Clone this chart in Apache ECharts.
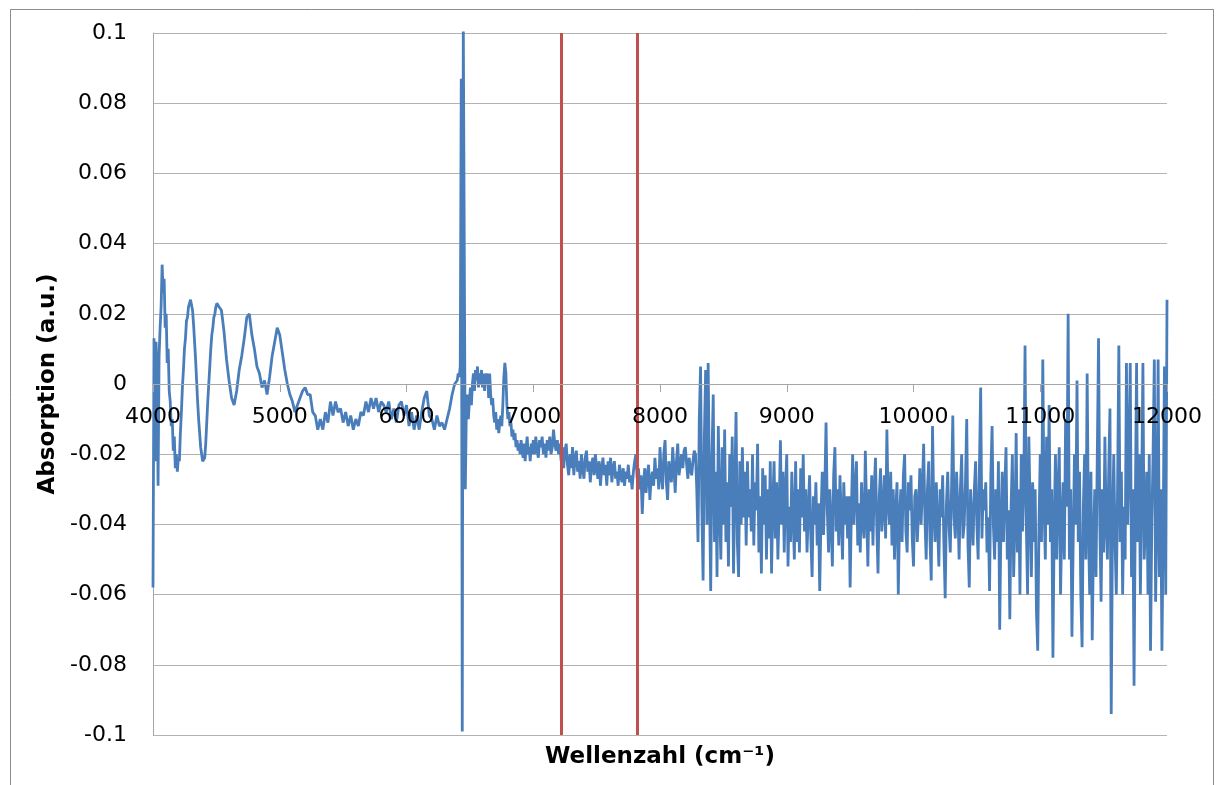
<!DOCTYPE html>
<html>
<head>
<meta charset="utf-8">
<title>Absorption spectrum</title>
<script src="https://cdn.jsdelivr.net/npm/echarts@6/dist/echarts.min.js"></script>
<style>
  html, body { margin: 0; padding: 0; background: #ffffff; }
  #chart { width: 1220px; height: 785px; }
</style>
</head>
<body>
<div id="chart"></div>
<script>
// Absorbance spectrum, sampled in bands with a fixed wavenumber step per band.

// 4000–4520 cm-1, step 8
const band1Start = 4000, band1Step = 8;
const band1 = [
  -0.058, 0.013, -0.022, 0.012, 0.003, -0.029, 0.008, 0.016, 0.022, 0.034,
  0.026, 0.030, 0.016, 0.020, 0.006, 0.010, -0.002, -0.005, -0.012, -0.010,
  -0.019, -0.015, -0.024, -0.020, -0.025, -0.021, -0.022, -0.014, -0.008, -0.001,
  0.004, 0.010, 0.013, 0.018, 0.019, 0.022, 0.023, 0.024, 0.024, 0.021,
  0.017, 0.012, 0.007, 0.001, -0.005, -0.010, -0.014, -0.018, -0.020, -0.022,
  -0.022, -0.021, -0.017, -0.011, -0.005, 0.000, 0.005, 0.010, 0.014, 0.016,
  0.019, 0.020, 0.022, 0.023, 0.023, 0.022
];

// 4540–6380 cm-1, step 20
const band2Start = 4540, band2Step = 20;
const band2 = [
  0.021, 0.015, 0.007, 0.001, -0.004, -0.006, -0.002, 0.004, 0.008, 0.013,
  0.019, 0.020, 0.014, 0.010, 0.005, 0.003, -0.001, 0.001, -0.003, 0.002,
  0.008, 0.012, 0.016, 0.014, 0.009, 0.004, 0.000, -0.003, -0.005, -0.008,
  -0.006, -0.004, -0.002,
  -0.001, -0.003, -0.003, -0.008, -0.009, -0.013, -0.010, -0.013, -0.008, -0.011,
  -0.005, -0.009, -0.005, -0.008, -0.007, -0.011, -0.008, -0.012, -0.009, -0.013,
  -0.010, -0.012, -0.008, -0.009, -0.005, -0.008, -0.004, -0.007, -0.004, -0.008,
  -0.005, -0.006, -0.008, -0.005, -0.010, -0.007, -0.011, -0.006, -0.005, -0.009,
  -0.006, -0.012, -0.008, -0.013, -0.009, -0.013, -0.008, -0.004, -0.002, -0.009,
  -0.010, -0.013, -0.009, -0.012, -0.011, -0.013, -0.010, -0.007, -0.003, 0.000
];

// 6400–6992 cm-1, step 8 (water band with the sharp feature)
const band3Start = 6400, band3Step = 8;
const band3 = [
  0.001, 0.003, 0.002, 0.005, 0.087, -0.099, 0.104, 0.104, -0.030, -0.008,
  -0.003, -0.010, -0.005, -0.001, -0.006, 0.000, 0.003, -0.002, 0.004, 0.001,
  0.005, -0.001, 0.003, 0.000, 0.004, -0.001, 0.003, -0.002, 0.003, 0.000,
  0.003, -0.004, 0.003, -0.003, -0.006, -0.004, -0.009, -0.011, -0.008, -0.013,
  -0.010, -0.014, -0.011, -0.009, -0.012, -0.006, 0.002, 0.006, 0.003, -0.006,
  -0.010, -0.008, -0.012, -0.011, -0.015, -0.013, -0.016, -0.014, -0.018, -0.016,
  -0.019, -0.017, -0.020, -0.016, -0.019, -0.021, -0.017, -0.022, -0.018, -0.015,
  -0.020, -0.018, -0.022, -0.017, -0.020
];

// 7000–8270 cm-1, step 10
const band4Start = 7000, band4Step = 10;
const band4 = [
  -0.016, -0.020, -0.015, -0.019, -0.021, -0.016, -0.018, -0.015, -0.020, -0.017,
  -0.021, -0.016, -0.019, -0.015, -0.020, -0.018, -0.013, -0.017, -0.019, -0.016,
  -0.020, -0.017, -0.022, -0.018, -0.024, -0.019, -0.017, -0.023, -0.026, -0.020,
  -0.024, -0.018, -0.026, -0.021, -0.019, -0.025, -0.022, -0.027, -0.020, -0.024,
  -0.027, -0.021, -0.019, -0.025, -0.022, -0.028, -0.023, -0.021, -0.026, -0.020,
  -0.024, -0.027, -0.022, -0.029, -0.024, -0.021, -0.026, -0.023, -0.029, -0.022,
  -0.026, -0.021, -0.028, -0.024, -0.022, -0.027, -0.025, -0.029, -0.023, -0.026,
  -0.028, -0.024, -0.029, -0.025, -0.027, -0.023, -0.028, -0.026, -0.030, -0.025,
  -0.022, -0.020, -0.027, -0.024, -0.030, -0.026, -0.037, -0.028, -0.024, -0.031,
  -0.026, -0.023, -0.033, -0.027, -0.025, -0.029, -0.021, -0.027, -0.024, -0.030,
  -0.018, -0.026, -0.030, -0.020, -0.016, -0.028, -0.033, -0.022, -0.025, -0.028,
  -0.018, -0.024, -0.031, -0.022, -0.017, -0.026, -0.023, -0.020, -0.024, -0.019,
  -0.018, -0.023, -0.027, -0.021, -0.024, -0.026, -0.022, -0.019
];

// 8280–12000 cm-1, step 10 (noisy upper range)
const band5Start = 8280, band5Step = 10;
const band5 = [
  -0.020, -0.030, -0.045, -0.010, 0.005, -0.035, -0.056, -0.015, 0.004, -0.040,
  0.006, -0.030, -0.059, -0.020, -0.003, -0.045, -0.025, -0.055, -0.012, -0.035,
  -0.050, -0.018, -0.040, -0.013, -0.045, -0.028, -0.052, -0.020, -0.035, -0.015,
  -0.054, -0.030, -0.008, -0.045, -0.055, -0.022, -0.040, -0.018, -0.038, -0.025,
  -0.046, -0.022, -0.038, -0.030, -0.042, -0.020, -0.046, -0.028, -0.036, -0.017,
  -0.048, -0.032, -0.054, -0.024, -0.040, -0.026, -0.050, -0.030, -0.044, -0.022,
  -0.054, -0.034, -0.022, -0.044, -0.028, -0.050, -0.036, -0.016, -0.040, -0.025,
  -0.048, -0.030, -0.020, -0.052, -0.035, -0.045, -0.025, -0.038, -0.050, -0.022,
  -0.045, -0.030, -0.048, -0.024, -0.038, -0.020, -0.042, -0.030, -0.048, -0.036,
  -0.026, -0.044, -0.055, -0.032, -0.040, -0.028, -0.046, -0.034, -0.059, -0.038,
  -0.025, -0.043, -0.030, -0.011, -0.036, -0.048, -0.030, -0.040, -0.052, -0.026,
  -0.018, -0.042, -0.030, -0.046, -0.026, -0.038, -0.050, -0.028, -0.040, -0.032,
  -0.044, -0.032, -0.058, -0.036, -0.020, -0.040, -0.030, -0.022, -0.046, -0.034,
  -0.048, -0.028, -0.040, -0.044, -0.019, -0.036, -0.052, -0.030, -0.042, -0.026,
  -0.046, -0.030, -0.021, -0.040, -0.054, -0.032, -0.024, -0.042, -0.036, -0.026,
  -0.044, -0.013, -0.034, -0.040, -0.025, -0.046, -0.030, -0.050, -0.036, -0.028,
  -0.060, -0.038, -0.030, -0.045, -0.026, -0.020, -0.042, -0.048, -0.028, -0.036,
  -0.026, -0.044, -0.052, -0.032, -0.030, -0.045, -0.036, -0.024, -0.040, -0.030,
  -0.017, -0.038, -0.050, -0.030, -0.022, -0.044, -0.056, -0.012, -0.036, -0.045,
  -0.028, -0.040, -0.052, -0.030, -0.038, -0.026, -0.046, -0.061, -0.034, -0.025,
  -0.040, -0.048, -0.030, -0.009, -0.038, -0.044, -0.025, -0.036, -0.050, -0.030,
  -0.020, -0.044, -0.040, -0.028, -0.010, -0.046, -0.058, -0.030, -0.038, -0.046,
  -0.030, -0.022, -0.040, -0.050, -0.024, -0.001, -0.044, -0.030, -0.036, -0.028,
  -0.048, -0.038, -0.059, -0.026, -0.012, -0.040, -0.050, -0.030, -0.045, -0.022,
  -0.070, -0.040, -0.025, -0.045, -0.030, -0.018, -0.050, -0.036, -0.067, -0.035,
  -0.020, -0.055, -0.040, -0.014, -0.048, -0.030, -0.060, -0.020, -0.042, -0.030,
  0.011, -0.040, -0.060, -0.015, -0.035, -0.055, -0.028, -0.045, -0.030, -0.065,
  -0.076, -0.040, -0.020, -0.045, 0.007, -0.035, -0.050, -0.015, -0.040, -0.006,
  -0.045, -0.030, -0.078, -0.040, -0.020, -0.050, -0.030, -0.018, -0.060, -0.040,
  -0.028, -0.050, -0.010, -0.035, 0.020, -0.050, -0.030, -0.072, -0.045, -0.020,
  -0.040, 0.001, -0.045, -0.025, -0.060, -0.075, -0.035, -0.020, -0.050, 0.003,
  -0.040, -0.060, -0.025, -0.073, -0.045, -0.030, -0.055, -0.020, 0.013, -0.040,
  -0.062, -0.030, -0.048, -0.015, -0.040, -0.050, -0.025, -0.007, -0.094, -0.040,
  -0.020, -0.045, -0.060, -0.030, 0.011, -0.045, -0.025, -0.060, -0.035, -0.050,
  0.006, -0.040, -0.020, 0.006, -0.055, -0.030, -0.086, -0.035, 0.006, -0.045,
  -0.020, -0.060, -0.030, 0.006, -0.050, -0.040, -0.025, -0.060, -0.020, -0.076,
  -0.040, -0.020, 0.007, -0.062, -0.040, 0.007, -0.055, -0.030, -0.076, -0.040,
  0.005, -0.060, 0.024
];

// Marked wavenumbers (vertical reference lines)
const markerWavenumbers = [7218, 7820];

// Axis ranges and tick spacing
const xRange = { min: 4000, max: 12000, interval: 1000 };
const yRange = { min: -0.1, max: 0.1, interval: 0.02 };

function toPairs(start, step, values) {
  return values.map((v, i) => [start + i * step, v]);
}

const spectrum = [].concat(
  toPairs(band1Start, band1Step, band1),
  toPairs(band2Start, band2Step, band2),
  toPairs(band3Start, band3Step, band3),
  toPairs(band4Start, band4Step, band4),
  toPairs(band5Start, band5Step, band5)
);

const FONT = 'DejaVu Sans';
const W = 1220, H = 785;
const gridBox = { left: 153, top: 33, right: 53, bottom: 50 };
const plotHeight = H - gridBox.top - gridBox.bottom;
// The x axis crosses the y axis at zero: shift it up from the bottom edge.
const zeroShift = plotHeight * (0 - yRange.min) / (yRange.max - yRange.min);

const chart = echarts.init(document.getElementById('chart'), null, { renderer: 'canvas', width: W, height: H });

chart.setOption({
  animation: false,
  backgroundColor: '#ffffff',
  grid: Object.assign({ containLabel: false }, gridBox),
  xAxis: {
    type: 'value',
    z: 10,
    min: xRange.min,
    max: xRange.max,
    interval: xRange.interval,
    offset: -zeroShift,
    axisLine: { onZero: false, lineStyle: { color: '#a6a6a6', width: 1 } },
    axisTick: { show: true, length: 8, lineStyle: { color: '#a6a6a6' } },
    axisLabel: {
      color: '#000', fontFamily: FONT, fontSize: 22, margin: 22,
      formatter: v => String(v)
    },
    splitLine: { show: false }
  },
  yAxis: {
    type: 'value',
    min: yRange.min,
    max: yRange.max,
    interval: yRange.interval,
    name: 'Absorption (a.u.)',
    nameLocation: 'middle',
    nameGap: 93,
    nameTextStyle: { color: '#000', fontFamily: FONT, fontSize: 23, fontWeight: 'bold' },
    axisLine: { show: true, onZero: false, lineStyle: { color: '#a6a6a6', width: 1 } },
    axisTick: { show: false },
    axisLabel: {
      color: '#000', fontFamily: FONT, fontSize: 22, margin: 26,
      formatter: v => String(+v.toFixed(2))
    },
    splitLine: { show: true, lineStyle: { color: '#b3b3b3', width: 1 } }
  },
  graphic: [
    {
      type: 'rect',
      shape: { x: 10.5, y: 9.5, width: 1203, height: 790 },
      style: { fill: 'none', stroke: '#8c8c8c', lineWidth: 1 },
      silent: true
    },
    {
      type: 'text',
      style: {
        text: 'Wellenzahl (cm⁻¹)',
        x: 660, y: 757,
        align: 'center', verticalAlign: 'middle',
        fill: '#000', font: 'bold 23px "DejaVu Sans"'
      },
      silent: true
    }
  ],
  series: [
    {
      type: 'line',
      data: spectrum,
      showSymbol: false,
      symbol: 'none',
      clip: true,
      lineStyle: { color: '#4a7ebb', width: 2.8 },
      markLine: {
        silent: true,
        symbol: 'none',
        label: { show: false },
        lineStyle: { color: '#c0504d', width: 3, type: 'solid' },
        data: markerWavenumbers.map(w => ({ xAxis: w }))
      }
    }
  ]
});
</script>
</body>
</html>
